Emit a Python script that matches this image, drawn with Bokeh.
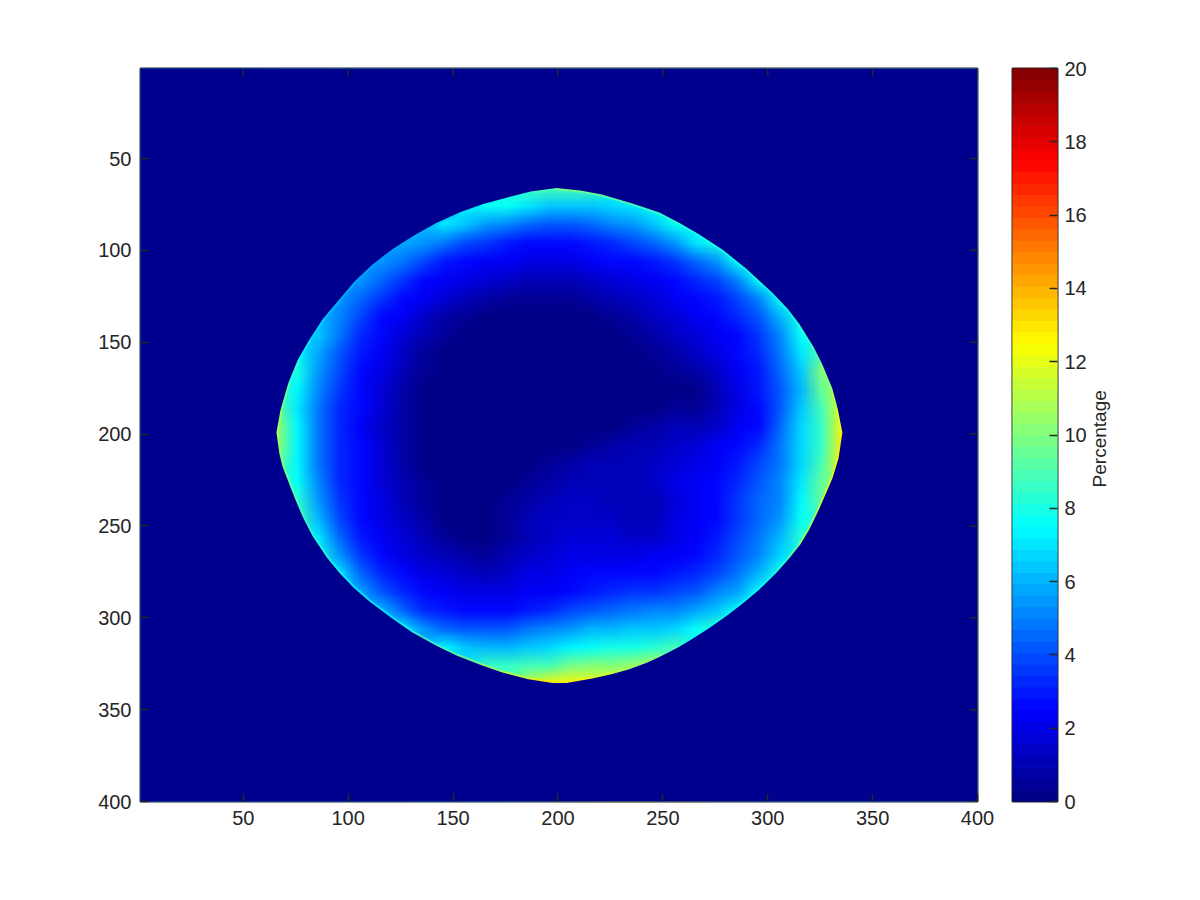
import math
import numpy as np
from bokeh.core.properties import value
from bokeh.embed import file_html
from bokeh.resources import INLINE
from bokeh.layouts import row
from bokeh.models import FixedTicker, LinearColorMapper, Range1d
from bokeh.plotting import figure

row_y = [65, 75, 85, 95, 105, 115, 125, 135, 145, 155, 165, 175, 185, 195, 205, 215, 225, 235, 245, 255, 265, 275, 285, 295, 305, 315, 325, 335]
row_start_x = [185, 165, 145, 125, 115, 105, 95, 85, 85, 75, 75, 65, 65, 65, 65, 65, 75, 75, 75, 85, 85, 95, 105, 115, 125, 145, 165, 185]
r065 = [9, 9, 9, 9]
r075 = [7.5, 7.5, 7, 6.5, 6.5, 6.5, 6.8, 7, 7.5, 8]
r085 = [7, 6.5, 5.5, 5, 4.5, 4.2, 4.2, 4.4, 5, 5.5, 6.5, 7.5]
r095 = [5.8, 5.5, 4.8, 4, 3.5, 3, 2.8, 2.7, 2.7, 2.9, 3.3, 3.8, 4.5, 5.5, 7, 8]
r105 = [5.5, 4.8, 3.8, 3, 2.7, 2.4, 2.2, 2, 2, 2.1, 2.3, 2.5, 2.7, 3, 3.6, 4.5, 5.5, 7.5]
r115 = [5.5, 4.6, 3.5, 2.8, 2.4, 2, 1.7, 1.4, 1.2, 1.2, 1.2, 1.4, 1.7, 2.1, 2.4, 2.7, 3.2, 4, 5, 7.5]
r125 = [5.5, 4.6, 3.5, 2.7, 2.2, 1.6, 1.1, 0.8, 0.5, 0.4, 0.4, 0.5, 0.7, 1, 1.3, 1.7, 2.2, 2.5, 3, 3.8, 5, 7.5]
r135 = [6, 5.2, 3.8, 2.8, 2.2, 1.4, 0.9, 0.4, 0.2, 0.2, 0.2, 0.2, 0.2, 0.3, 0.5, 0.9, 1.3, 1.7, 2.2, 2.6, 3.2, 4.2, 6, 8]
r145 = [6.5, 4.8, 3.4, 2.6, 1.7, 1, 0.4, 0.1, 0.1, 0.1, 0.1, 0.1, 0.1, 0.1, 0.2, 0.4, 0.9, 1.3, 1.7, 2.3, 2.7, 3.7, 5.2, 7.8]
r155 = [7.2, 5.8, 4.2, 3, 2.3, 1.3, 0.6, 0.2, 0.1, 0.1, 0.1, 0.1, 0.1, 0.1, 0.1, 0.1, 0.2, 0.4, 0.8, 1.3, 1.9, 2.5, 3.3, 4.7, 7, 9]
r165 = [8, 5.5, 3.9, 2.7, 1.9, 1, 0.4, 0.1, 0.1, 0.1, 0.1, 0.1, 0.1, 0.1, 0.1, 0.1, 0.1, 0.2, 0.4, 0.8, 1.5, 2.3, 3, 4.4, 6.5, 10]
r175 = [9, 7.2, 5, 3.6, 2.6, 1.7, 0.9, 0.3, 0.1, 0.1, 0.1, 0.1, 0.1, 0.1, 0.1, 0.1, 0.1, 0.1, 0.1, 0.2, 0.3, 1.1, 2, 2.9, 4.2, 6.2, 9.5, 11]
r185 = [9.5, 7, 4.7, 3.3, 2.5, 1.6, 0.8, 0.2, 0.1, 0.1, 0.1, 0.1, 0.1, 0.1, 0.1, 0.1, 0.1, 0.2, 0.3, 0.4, 0.6, 1.1, 2, 2.8, 4.2, 6.3, 9, 12]
r195 = [10.5, 7.2, 4.7, 3.2, 2.4, 1.5, 0.7, 0.2, 0.1, 0.1, 0.1, 0.1, 0.1, 0.1, 0.1, 0.1, 0.3, 0.5, 0.8, 1, 1.2, 1.5, 2.2, 2.8, 4.6, 6.6, 8.7, 12.5]
r205 = [10.5, 7.3, 4.8, 3.3, 2.5, 1.6, 0.8, 0.2, 0.1, 0.1, 0.1, 0.1, 0.1, 0.1, 0.2, 0.5, 0.9, 1, 1.2, 1.4, 1.7, 2.2, 2.6, 3.4, 4.8, 6.7, 8.7, 12.5]
r215 = [9.5, 7.3, 4.8, 3.3, 2.5, 1.6, 0.9, 0.3, 0.1, 0.1, 0.1, 0.1, 0.2, 0.4, 0.8, 1, 1.2, 1.2, 1.4, 1.7, 2.1, 2.3, 2.9, 3.8, 4.9, 6.8, 9, 12.5]
r225 = [7.8, 5, 3.4, 2.5, 1.7, 1, 0.4, 0.2, 0.1, 0.1, 0.2, 0.5, 0.9, 1.1, 1.2, 1, 1.1, 1.5, 1.9, 2.3, 2.5, 3.4, 4.2, 5, 7, 9.5]
r235 = [8.3, 5.5, 3.6, 2.6, 1.9, 1.1, 0.5, 0.2, 0.1, 0.1, 0.4, 0.9, 1.1, 1.3, 1.4, 1.2, 1.1, 1.2, 1.7, 2.3, 2.7, 3.5, 4.4, 5.3, 7.3, 9.5]
r245 = [8.8, 6, 3.9, 2.6, 1.9, 1.3, 0.7, 0.2, 0.1, 0.1, 0.6, 1.1, 1.3, 1.4, 1.5, 1.3, 1, 1.2, 1.9, 2.4, 2.8, 3.7, 4.6, 5.5, 7.6]
r255 = [7, 4.6, 3, 2.2, 1.6, 1, 0.5, 0.3, 0.2, 0.6, 1.2, 1.4, 1.6, 1.7, 1.6, 1.3, 1.5, 1.9, 2.4, 3, 3.8, 4.8, 6, 8.2]
r265 = [8, 5.4, 3.7, 2.6, 2, 1.5, 1, 0.7, 0.6, 1, 1.5, 1.8, 2, 2.1, 2.1, 2.1, 2.2, 2.4, 2.7, 3.3, 4.1, 5.2, 6.8]
r275 = [7, 4.6, 3.2, 2.5, 2, 1.6, 1.3, 1.2, 1.5, 2, 2.1, 2.3, 2.5, 2.6, 2.7, 2.8, 3, 3.3, 4, 4.7, 6, 8]
r285 = [5.8, 4.2, 3.2, 2.6, 2.3, 2.1, 2, 2.1, 2.2, 2.4, 2.8, 3.1, 3.3, 3.5, 3.7, 3.9, 4.3, 5, 5.8, 7.5]
r295 = [6, 4.5, 3.4, 2.9, 2.8, 2.7, 2.8, 3, 3.4, 4, 4.3, 4.5, 4.8, 5, 5.3, 5.8, 6.5, 7.8]
r305 = [7, 5.5, 4.6, 4.2, 4.1, 4.3, 4.7, 5, 5.6, 6, 6.1, 6.3, 6.5, 6.8, 7.5, 8.5]
r315 = [7.2, 6.5, 6, 6.2, 6.5, 6.7, 7.4, 7.7, 7.9, 8, 8.3, 9]
r325 = [8.5, 8.5, 8.8, 9, 9.8, 10, 10.2, 10.5, 11]
r335 = [11, 12.5, 12.5, 12, 12]
rows = [r065, r075, r085, r095, r105, r115, r125, r135, r145, r155, r165, r175, r185, r195,
        r205, r215, r225, r235, r245, r255, r265, r275, r285, r295, r305, r315, r325, r335]

# Outline of the non-zero region, and the value seen right at that edge
boundary_x = [65.8, 67.7, 71.5, 76, 81.5, 88, 95.8, 103, 111.6, 120.7, 130.6, 141.5, 153, 164, 175.4, 187, 199.3,
              210.7, 221, 235.5, 248.4, 258.4, 267.4, 278.9, 289.8, 302.2, 309.4, 315, 321.8, 326, 330.8, 333.3, 335.6,
              333.8, 331, 327.9, 324.2, 319.8, 315.6, 310, 304.6, 296, 288.4, 280.3, 272.7, 264, 257.4, 249.8, 242.7, 234, 226, 216.4, 204,
              197.4, 185.9, 173.5, 162.9, 151.6, 141.6, 130.6, 121, 110, 102.5, 95.8, 90, 83, 78.7, 75.3, 72.5, 68.7, 67.2]
boundary_y = [199.2, 187, 172, 159.5, 148.6, 137.2, 126.8, 117, 107.7, 99.6, 92.5, 85.4, 79.4, 74.9, 71.3, 68, 66,
              67.4, 69.6, 74.5, 79.4, 85.4, 91.4, 100, 110, 123, 131.6, 140, 152.5, 162, 175.2, 186, 199.2,
              213, 223.6, 232, 241.6, 252, 260, 268, 275, 284.6, 292, 299, 305.2, 311.5, 316, 320.5, 324.4, 328, 330.6, 333, 335.5,
              335.5, 333.5, 329.8, 325.5, 320.5, 315, 308, 300.4, 291, 283.5, 275.5, 267.5, 255.5, 246, 237, 229, 217.7, 210.6]
boundary_v = [11, 9.8, 8.5, 7.8, 7, 6.5, 6, 5.7, 5.5, 5.8, 6, 6.5, 7, 7.5, 8, 9, 10,
              9.8, 9.5, 9, 8.5, 8.3, 8, 8, 8, 8, 8, 8.5, 9.2, 10, 11, 12, 13,
              12.5, 12.3, 12, 11.5, 11, 10, 8.5, 8, 7.5, 7.5, 7.5, 7.8, 8, 9, 10, 10.5, 11, 11.8, 12.5, 13,
              13, 12, 11, 10.2, 9.5, 8.8, 8, 7.8, 7.5, 7.8, 8, 8.3, 8.5, 9, 9.5, 10, 10.5, 10.8]

x_ticks = [50, 100, 150, 200, 250, 300, 350, 400]
y_ticks = [50, 100, 150, 200, 250, 300, 350, 400]
cbar_ticks = [0, 2, 4, 6, 8, 10, 12, 14, 16, 18, 20]
cbar_label = "Percentage"

INK = "#262626"
FONT = "Liberation Sans"
NAVY = "#00008f"


def jet(n):
    out = []
    for i in range(n):
        t = (i + 0.5) / n
        r = np.clip(1.5 - abs(4 * t - 3), 0, 1)
        g = np.clip(1.5 - abs(4 * t - 2), 0, 1)
        b = np.clip(1.5 - abs(4 * t - 1), 0, 1)
        out.append("#%02x%02x%02x" % (int(r * 255), int(g * 255), int(b * 255)))
    return out


palette = jet(64)
mapper = LinearColorMapper(palette=palette, low=0, high=20)

grid = np.full((40, 40), np.nan)
for y, x0, vals in zip(row_y, row_start_x, rows):
    i = (y - 5) // 10
    j = (x0 - 5) // 10
    grid[i, j:j + len(vals)] = vals
# cells wholly outside the outline lie under the mask: pad them so the edge does not fade
for _ in range(40):
    nan = np.isnan(grid)
    if not nan.any():
        break
    for i, j in zip(*np.where(nan)):
        nb = grid[max(i - 1, 0):i + 2, max(j - 1, 0):j + 2]
        if not np.isnan(nb).all():
            grid[i, j] = np.nanmean(nb)

p = figure(width=997, height=861, output_backend="svg", toolbar_location=None,
           x_range=Range1d(1, 400), y_range=Range1d(400, 1),
           min_border_left=140, min_border_right=20, min_border_top=68, min_border_bottom=60,
           x_axis_location="below", y_axis_location="left")
p.image(image=[grid], x=0.5, y=0.5, dw=400, dh=400, color_mapper=mapper)
# bright thin rim along the outline: the mask below covers its outer half
rim_colors = [palette[min(int(v / 20 * 64), 63)] for v in boundary_v]
p.segment(x0=boundary_x, y0=boundary_y, x1=boundary_x[1:] + boundary_x[:1], y1=boundary_y[1:] + boundary_y[:1],
          line_color=rim_colors, line_width=4, line_alpha=0.7)
p.multi_polygons(xs=[[[[0.5, 400.5, 400.5, 0.5], boundary_x]]],
                 ys=[[[[0.5, 0.5, 400.5, 400.5], boundary_y]]],
                 fill_color=NAVY, line_color=None)
# inward tick marks on the top and right edges of the frame
TICK_X = 8 * 399 / 837
TICK_Y = 8 * 399 / 733
p.segment(x0=x_ticks, x1=x_ticks, y0=1, y1=1 + TICK_Y, line_color=INK, line_width=1.5)
p.segment(x0=400, x1=400 - TICK_X, y0=y_ticks, y1=y_ticks, line_color=INK, line_width=1.5)
p.grid.visible = False
p.outline_line_color = INK
p.outline_line_width = 2


def style(ax, ticks):
    ax.ticker = FixedTicker(ticks=ticks)
    ax.major_tick_in = 8
    ax.major_tick_out = 0
    ax.minor_tick_line_color = None
    ax.major_tick_line_color = INK
    ax.major_tick_line_width = 1.5
    ax.axis_line_color = None
    ax.major_label_text_color = INK
    ax.major_label_text_font = FONT
    ax.major_label_text_font_size = "20px"
    ax.major_label_standoff = 9


style(p.xaxis[0], x_ticks)
style(p.yaxis[0], y_ticks)

edges = np.linspace(0, 20, len(palette) + 1)
c = figure(width=93, height=861, output_backend="svg", toolbar_location=None,
           x_range=Range1d(0, 1), y_range=Range1d(0, 20),
           min_border_left=15, min_border_right=33, min_border_top=68, min_border_bottom=60,
           y_axis_location="right")
c.quad(left=0, right=1, bottom=edges[:-1], top=edges[1:], fill_color=palette, line_color=palette, line_width=1)
c.grid.visible = False
c.xaxis.visible = False
c.outline_line_color = INK
c.outline_line_width = 2
ax = c.yaxis[0]
style(ax, cbar_ticks)
ax.major_label_standoff = 7

# narrow strip to the right of the colour bar that holds only the rotated label
d = figure(width=40, height=861, output_backend="svg", toolbar_location=None,
           x_range=Range1d(0, 40), y_range=Range1d(861, 0),
           x_axis_type=None, y_axis_type=None, min_border=0)
d.grid.visible = False
d.outline_line_color = None
d.text(x=[9], y=[435], text=[cbar_label], angle=math.pi / 2, text_align="center", text_baseline="middle",
       text_font=value(FONT), text_font_size="19px", text_color=INK)

layout = row(p, c, d, spacing=0)
html = file_html(layout, INLINE)
# let the browser shade the image smoothly (like interpolated shading); the data stay as read
smooth = """<head><script>
Object.defineProperty(CanvasRenderingContext2D.prototype,'imageSmoothingEnabled',{get:function(){return true;},set:function(v){},configurable:true});
</script>"""
html = html.replace("<head>", smooth, 1)
open("out.html", "w").write(html)
